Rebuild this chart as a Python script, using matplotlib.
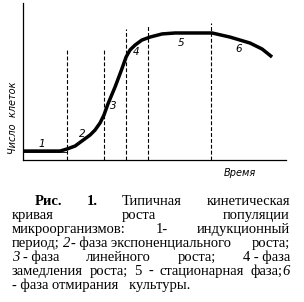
"""Typical kinetic growth curve of a microbial population, with caption"""

import matplotlib
matplotlib.use('Agg')
import matplotlib.pyplot as plt

# growth curve (time, number of cells), arbitrary units
t = [0.0, 1.41, 1.67, 1.98, 2.24, 2.55, 2.74, 2.93, 3.08, 3.23, 3.50, 3.73, 3.92,
     4.07, 4.26, 4.52, 4.83, 5.29, 5.78, 7.19, 7.87, 8.63, 9.09, 9.47]
n = [0.57, 0.57, 0.70, 0.89, 1.21, 1.59, 1.91, 2.36, 2.87, 3.57, 4.65, 5.67, 6.56,
     7.01, 7.32, 7.64, 7.83, 8.03, 8.09, 8.09, 7.83, 7.45, 7.07, 6.56]

# phase boundaries (dashed lines) and their heights
bound_t = [1.67, 3.08, 3.92, 4.75, 7.15]
bound_top = [7.07, 7.07, 8.34, 8.60, 8.73]

# phase numbers and where they sit
phase_lab = ['1', '2', '3', '4', '5', '6']
phase_t = [0.70, 2.25, 3.45, 4.30, 6.00, 8.20]
phase_n = [1.00, 1.65, 3.45, 6.85, 7.45, 7.10]

W, H = 304, 302
fig = plt.figure(figsize=(W / 100.0, H / 100.0), dpi=100)
ax = fig.add_axes([23.0 / W, (H - 160.0) / H, 263.0 / W, 157.0 / H])
ax.set_xlim(0, 10)
ax.set_ylim(0, 10)
ax.plot(t, n, color='black', lw=2.5, solid_capstyle='butt')
ax.plot([0, 1.67], [0.50, 0.50], color='black', lw=0.6)
for xb, yt in zip(bound_t, bound_top):
    ax.plot([xb, xb], [0, yt], color='black', lw=0.8, dashes=(3.5, 1.8))
for s, x, y in zip(phase_lab, phase_t, phase_n):
    ax.text(x, y, s, fontsize=7.5, style='italic', ha='center', va='center')
ax.spines['top'].set_visible(False)
ax.spines['right'].set_visible(False)
ax.spines['left'].set_linewidth(0.9)
ax.spines['bottom'].set_linewidth(0.9)
ax.set_xticks([])
ax.set_yticks([])
fig.text(13.0 / W, 1 - 118.0 / H, 'Число  клеток', rotation=90, fontsize=7,
         style='italic', ha='center', va='center')
fig.text(240.0 / W, 1 - 173.0 / H, 'Время', fontsize=7, style='italic',
         ha='center', va='center')

# caption, justified like the source
serif = 'Liberation Serif'
fsize = 10.5
cap = [
    [[('Рис.', 'b')], [('1.', 'b')], [('Типичная', '')], [('кинетическая', '')]],
    [[('кривая', '')], [('роста', '')], [('популяции', '')]],
    [[('микроорганизмов:', '')], [('1-', '')], [('индукционный', '')]],
    [[('период;', ''), (' 2', 'i'), ('- фаза экспоненциального', '')], [('роста;', '')]],
    [[('3', 'i'), (' - фаза', '')], [('линейного', '')], [('роста;', '')], [('4 - фаза', '')]],
    [[('замедления', '')], [('роста;', '')], [('5', '')], [('-', '')], [('стационарная', '')],
     [('фаза;', ''), ('6', 'i')]],
    [[('- фаза отмирания   культуры.', '')]],
]
cap_left = [35, 12, 12, 12, 12, 12, 12]
cap_base = [205, 219, 233, 247, 261, 275, 289]
cap_right = 290
justify = [True, True, True, True, True, True, False]

renderer = fig.canvas.get_renderer()


def props(st):
    return dict(family=serif, fontsize=fsize,
                weight='bold' if 'b' in st else 'normal',
                style='italic' if 'i' in st else 'normal')


def width(s, st):
    tx = fig.text(0, 0, s, **props(st))
    wd = tx.get_window_extent(renderer).width
    tx.remove()
    return wd


space = width('н н', '') - width('нн', '')

for line, x0, yb, jus in zip(cap, cap_left, cap_base, justify):
    widths = []
    for g in line:
        gw = 0
        for s, st in g:
            if s.startswith(' '):
                gw += space
            gw += width(s.strip(), st)
        widths.append(gw)
    if jus and len(line) > 1:
        gap = (cap_right - x0 - sum(widths)) / (len(line) - 1)
    else:
        gap = space
    x = x0
    for g, gw in zip(line, widths):
        xx = x
        for s, st in g:
            if s.startswith(' '):
                xx += space
            fig.text(xx / W, 1 - yb / H, s.strip(), va='baseline', ha='left', **props(st))
            xx += width(s.strip(), st)
        x += gw + gap

fig.savefig('out.png', dpi=100)
